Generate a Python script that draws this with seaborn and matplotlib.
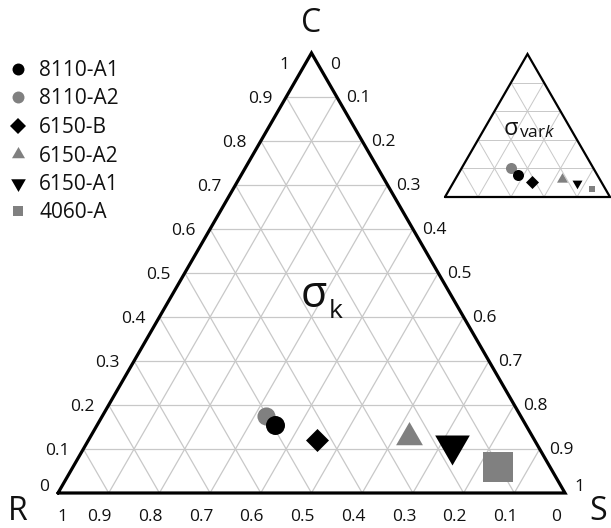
import numpy as np
import matplotlib
matplotlib.use("Agg")
import matplotlib.pyplot as plt
import seaborn as sns
from matplotlib.lines import Line2D

# ---------------- data ----------------
samples = ["8110-A1", "8110-A2", "6150-B", "6150-A2", "6150-A1", "4060-A"]
colors = ["#000000", "#808080", "#000000", "#808080", "#000000", "#808080"]
markers = ["o", "o", "D", (3, 0, 0), (3, 0, 180), "s"]

# main ternary (sigma_k): C (top) and S (bottom-right) fractions, R = 1 - C - S
main_C = [0.155, 0.175, 0.120, 0.127, 0.108, 0.060]
main_S = [0.351, 0.322, 0.450, 0.629, 0.723, 0.838]

# inset ternary (sigma_vark)
inset_C = [0.154, 0.203, 0.105, 0.126, 0.098, 0.056]
inset_S = [0.365, 0.298, 0.475, 0.646, 0.751, 0.863]

tick_values = [0.0, 0.1, 0.2, 0.3, 0.4, 0.5, 0.6, 0.7, 0.8, 0.9, 1.0]
tick_labels = ["0", "0.1", "0.2", "0.3", "0.4", "0.5", "0.6", "0.7", "0.8", "0.9", "1"]

# ---------------- style ----------------
sns.set_style("white")
plt.rcParams["font.family"] = ["Open Sans", "DejaVu Sans"]
plt.rcParams["text.color"] = "#111111"
plt.rcParams["mathtext.fontset"] = "custom"
plt.rcParams["mathtext.rm"] = "Open Sans"
plt.rcParams["mathtext.it"] = "Open Sans:italic"

main_sizes = [187, 170, 137, 497, 829, 467]
inset_sizes = [63, 63, 44, 83, 69, 25]
legend_ms = [8.6, 8.6, 8.5, 10.8, 12.2, 7.9]

H = np.sqrt(3) / 2
W_PX, H_PX = 611, 528


def to_xy(C, S):
    C = np.asarray(C, float)
    S = np.asarray(S, float)
    return S + C / 2.0, C * H


def draw_frame(ax, ndiv, grid_lw, edge_lw):
    for k in range(1, ndiv):
        t = k / ndiv
        ax.plot([t / 2, 1 - t / 2], [t * H, t * H], color="#c8c8c8", lw=grid_lw, zorder=1)
        ax.plot([t, t + (1 - t) / 2], [0, (1 - t) * H], color="#c8c8c8", lw=grid_lw, zorder=1)
        ax.plot([1 - t, (1 - t) / 2], [0, (1 - t) * H], color="#c8c8c8", lw=grid_lw, zorder=1)
    ax.plot([0, 1, 0.5, 0], [0, 0, H, 0], color="black", lw=edge_lw,
            solid_joinstyle="miter", zorder=3, clip_on=False)
    ax.set_xlim(0, 1)
    ax.set_ylim(0, H)
    ax.axis("off")


def draw_points(ax, Cs, Ss, sizes):
    xs, ys = to_xy(Cs, Ss)
    for i in reversed(range(len(samples))):
        sns.scatterplot(x=[xs[i]], y=[ys[i]], marker=markers[i], s=sizes[i],
                        color=colors[i], linewidth=0, ax=ax, zorder=4,
                        clip_on=False, legend=False)


fig = plt.figure(figsize=(W_PX / 100, H_PX / 100), dpi=100)

ax = fig.add_axes([58 / W_PX, 35 / H_PX, 507 / W_PX, 440 / H_PX])
draw_frame(ax, 10, 0.9, 2.3)
draw_points(ax, main_C, main_S, main_sizes)

fs_tick = 12.5
n = len(tick_values)
for i, (v, lab) in enumerate(zip(tick_values, tick_labels)):
    bx, by = 1 - v, 0.0
    dx = -9
    if i == n - 1:
        dx = 4
    ax.annotate(lab, (bx, by), xytext=(dx, -24), textcoords="offset pixels",
                ha="center", va="center", fontsize=fs_tick, annotation_clip=False)
    lx, ly = v / 2, v * H
    ldx, ldy = -14, -2
    if i == 0:
        ldx, ldy = -9, 6
    if i == n - 1:
        ldx, ldy = -22, -12
    ax.annotate(lab, (lx, ly), xytext=(ldx, ldy), textcoords="offset pixels",
                ha="right", va="center", fontsize=fs_tick, annotation_clip=False)
    rx, ry = (1 + v) / 2, (1 - v) * H
    rdx, rdy = 9, -1
    if i == 0:
        rdx, rdy = 19, -12
    if i == n - 1:
        rdx, rdy = 9, 6
    ax.annotate(lab, (rx, ry), xytext=(rdx, rdy), textcoords="offset pixels",
                ha="left", va="center", fontsize=fs_tick, annotation_clip=False)


def fxy(px, py):
    return px / W_PX, 1 - py / H_PX


fig.text(*fxy(311, 24), "C", ha="center", va="center", fontsize=23)
fig.text(*fxy(18, 512), "R", ha="center", va="center", fontsize=23)
fig.text(*fxy(598, 512), "S", ha="center", va="center", fontsize=23)

fig.text(*fxy(327, 307), "σ", ha="right", va="baseline", fontsize=31)
fig.text(*fxy(329, 318), "k", ha="left", va="baseline", fontsize=19)

ax2 = fig.add_axes([445 / W_PX, (H_PX - 197) / H_PX, 165 / W_PX, 143 / H_PX])
draw_frame(ax2, 5, 0.7, 1.6)
draw_points(ax2, inset_C, inset_S, inset_sizes)
fig.text(*fxy(518, 135), "σ", ha="right", va="baseline", fontsize=17)
fig.text(*fxy(519, 137), "var$\\mathit{k}$", ha="left", va="baseline", fontsize=12.5)

handles = [Line2D([], [], marker=markers[i], linestyle="none", markersize=legend_ms[i],
                  color=colors[i], markeredgewidth=0) for i in range(len(samples))]
fig.legend(handles, samples, loc="upper left", bbox_to_anchor=fxy(8, 60),
           frameon=False, prop={"size": 15}, handlelength=0.95,
           handletextpad=0.55, labelspacing=0.36, borderpad=0, borderaxespad=0)

fig.savefig("out.png", dpi=100)
